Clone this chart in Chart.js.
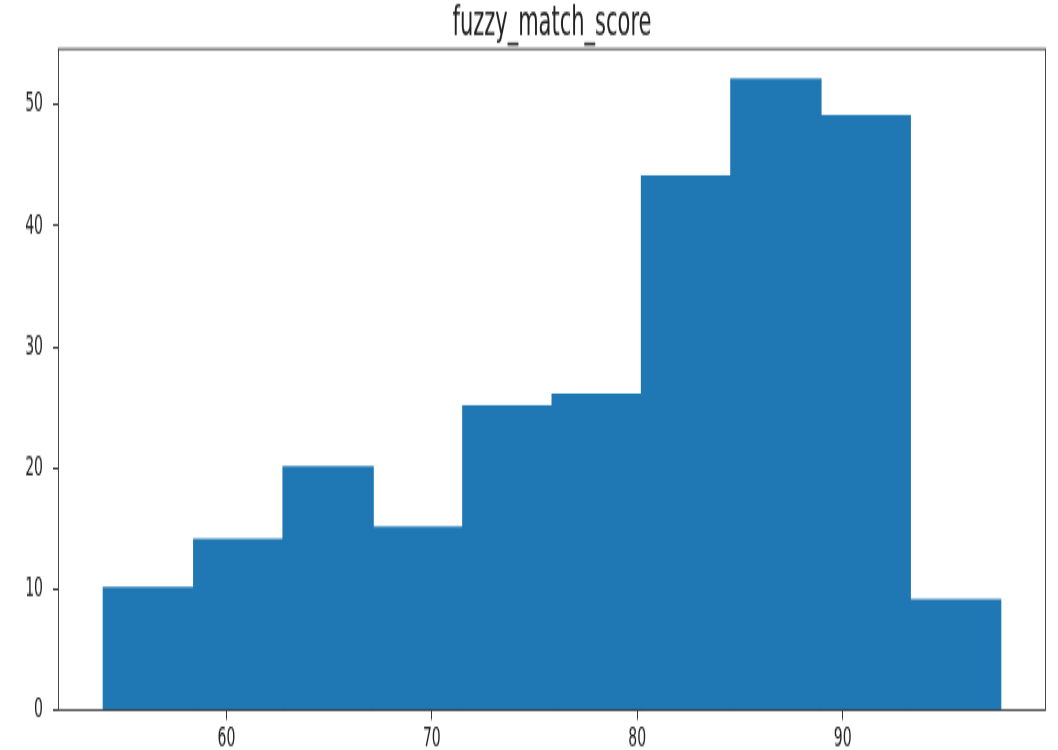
<!DOCTYPE html>
<html>
<head>
<meta charset="utf-8">
<script src="https://cdn.jsdelivr.net/npm/chart.js@4/dist/chart.umd.min.js"></script>
<style>
html,body{margin:0;padding:0;background:#fff;overflow:hidden;}
#c{display:block;width:1058px;height:750px;}
</style>
</head>
<body>
<canvas id="c" width="1058" height="385" style="width:1058px;height:750px;"></canvas>
<script>
const titleText = "fuzzy_match_score";
const binEdges = [54.0, 58.4, 62.8, 67.1, 71.5, 75.9, 80.2, 84.6, 88.9, 93.3, 97.7];
const counts = [10, 14, 20, 15, 25, 26, 44, 52, 49, 9];
const xTicks = [60, 70, 80, 90];
const yTicks = [0, 10, 20, 30, 40, 50];
const xRange = [51.8, 99.9];
const yRange = [0, 54.6];

const data = counts.map((v, i) => ({x: (binEdges[i] + binEdges[i+1]) / 2, y: v}));

const frame = {
  id: 'frame',
  afterLayout(chart) {
    const a = chart.chartArea;
    if (chart.titleBlock) {
      chart.titleBlock.left = a.left;
      chart.titleBlock.right = a.right;
      chart.titleBlock.width = a.right - a.left;
    }
  },
  afterDatasetsDraw(chart) {
    const a = chart.chartArea, ctx = chart.ctx;
    ctx.save();
    ctx.strokeStyle = '#333';
    ctx.lineWidth = 0.9;
    ctx.strokeRect(Math.round(a.left) + 0.5, a.top, Math.round(a.right - a.left) - 1, a.bottom - a.top);
    ctx.restore();
  }
};

new Chart(document.getElementById('c'), {
  type: 'bar',
  data: {datasets: [{data, backgroundColor: '#1f77b4', borderWidth: 0,
    inflateAmount: 1, barPercentage: 1.0, categoryPercentage: 1.0}]},
  options: {
    responsive: false, animation: false, devicePixelRatio: 1,
    layout: {padding: {left: 0, right: 12, top: 0, bottom: 0}},
    plugins: {
      legend: {display: false}, tooltip: {enabled: false},
      title: {display: true, text: titleText, color: '#222',
        font: {family: 'DejaVu Sans', size: 21, weight: 'normal', lineHeight: 1},
        padding: {top: 2, bottom: 2.15}}
    },
    scales: {
      x: {type: 'linear', min: xRange[0], max: xRange[1], offset: false,
        afterBuildTicks: s => { s.ticks = xTicks.map(v => ({value: v})); },
        afterFit: s => { s.height = 20.5; },
        grid: {display: true, offset: false, drawOnChartArea: false, drawTicks: true, tickLength: 5, tickColor: '#333'},
        border: {display: false},
        ticks: {color: '#222', padding: 1, maxRotation: 0, font: {family: 'DejaVu Sans', size: 14}}
      },
      y: {type: 'linear', min: yRange[0], max: yRange[1],
        afterBuildTicks: s => { s.ticks = yTicks.map(v => ({value: v})); },
        afterFit: s => { s.width = 58; },
        grid: {display: true, drawOnChartArea: false, drawTicks: true, tickLength: 5, tickColor: '#333'},
        border: {display: false},
        ticks: {color: '#222', padding: 10, font: {family: 'DejaVu Sans', size: 14}}
      }
    }
  },
  plugins: [frame]
});
</script>
</body>
</html>
